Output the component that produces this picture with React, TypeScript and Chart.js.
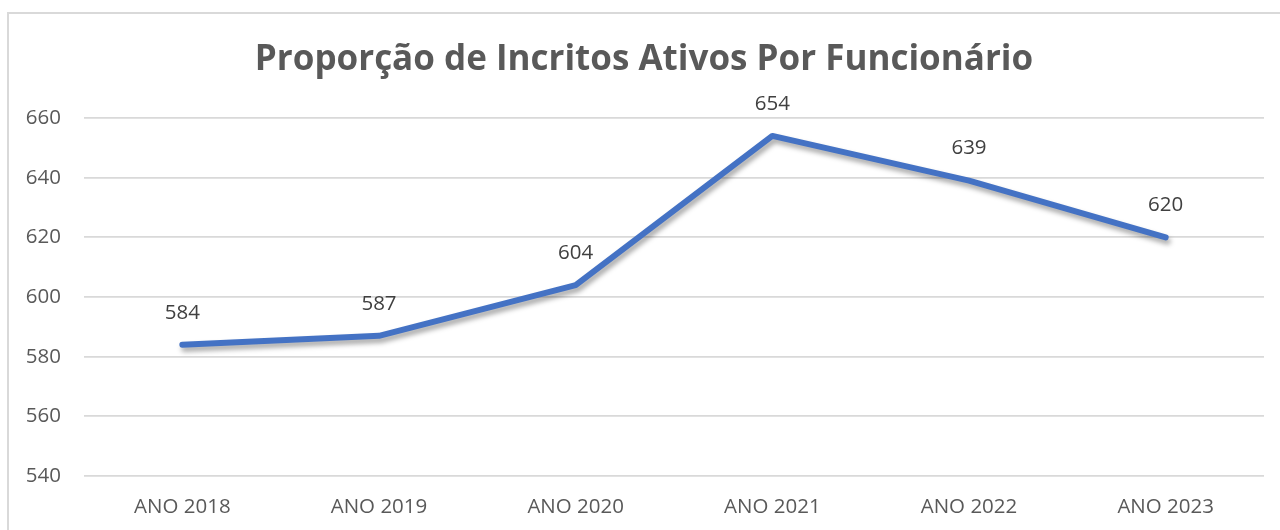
import React, { useEffect, useRef } from "react";
import { Chart, registerables } from "chart.js";

Chart.register(...registerables);

const categories: string[] = ["ANO 2018", "ANO 2019", "ANO 2020", "ANO 2021", "ANO 2022", "ANO 2023"];
const values: number[] = [584, 587, 604, 654, 639, 620];
const yMin = 540;
const yMax = 660;
const yStep = 20;
const titleText = "Proporção de Incritos Ativos Por Funcionário";

const FONT = "'Open Sans', 'Noto Sans', sans-serif";

const borderPlugin = {
  id: "outerBorder",
  beforeDraw(chart: any) {
    const ctx = chart.ctx;
    ctx.save();
    ctx.fillStyle = "#ffffff";
    ctx.fillRect(0, 0, chart.width, chart.height);
    ctx.strokeStyle = "#d9d9d9";
    ctx.lineWidth = 2;
    ctx.strokeRect(8, 13, chart.width + 20, chart.height + 20);
    ctx.restore();
  },
};

const shadowPlugin = {
  id: "lineShadow",
  beforeDatasetDraw(chart: any) {
    const ctx = chart.ctx;
    ctx.save();
    ctx.shadowColor = "rgba(0,0,0,0.35)";
    ctx.shadowBlur = 5;
    ctx.shadowOffsetX = 2;
    ctx.shadowOffsetY = 4;
  },
  afterDatasetDraw(chart: any) {
    chart.ctx.restore();
  },
};

const labelPlugin = {
  id: "valueLabels",
  afterDatasetsDraw(chart: any) {
    const ctx = chart.ctx;
    const meta = chart.getDatasetMeta(0);
    const data = chart.data.datasets[0].data as number[];
    ctx.save();
    ctx.font = `20.5px ${FONT}`;
    ctx.fillStyle = "#404040";
    ctx.textAlign = "center";
    ctx.textBaseline = "middle";
    meta.data.forEach((pt: any, i: number) => {
      ctx.fillText(String(data[i]), pt.x, pt.y - 32);
    });
    ctx.restore();
  },
};

export default function App() {
  const ref = useRef<HTMLCanvasElement | null>(null);
  useEffect(() => {
    if (!ref.current) return;
    const chart = new Chart(ref.current, {
      type: "line",
      data: {
        labels: categories,
        datasets: [
          {
            data: values,
            borderColor: "#4472C4",
            backgroundColor: "#4472C4",
            borderWidth: 6,
            borderCapStyle: "round",
            borderJoinStyle: "round",
            pointRadius: 0,
            tension: 0,
            fill: false,
          },
        ],
      },
      options: {
        animation: false,
        responsive: false,
        maintainAspectRatio: false,
        layout: { padding: { left: 24, right: 16, top: 0, bottom: 11 } },
        plugins: {
          legend: { display: false },
          tooltip: { enabled: false },
          title: {
            display: true,
            text: titleText,
            color: "#595959",
            font: { family: FONT, size: 35, weight: "bold" },
            padding: { top: 39, bottom: 37 },
          },
        },
        scales: {
          x: {
            offset: true,
            grid: { display: false, drawTicks: false },
            border: { display: false },
            ticks: {
              color: "#595959",
              font: { family: FONT, size: 20.5 },
              padding: 19,
              maxRotation: 0,
            },
            afterFit(scale: any) {
              scale.height = 43;
            },
          },
          y: {
            min: yMin,
            max: yMax,
            grid: { color: "#d9d9d9", lineWidth: 1.8, drawTicks: false },
            border: { display: false },
            ticks: {
              stepSize: yStep,
              color: "#595959",
              font: { family: FONT, size: 20.5 },
              padding: 23,
            },
            afterFit(scale: any) {
              scale.width = 60;
            },
          },
        },
      },
      plugins: [borderPlugin, shadowPlugin, labelPlugin],
    });
    return () => chart.destroy();
  }, []);
  return (
    <div style={{ position: "fixed", left: 0, top: 0, width: 1280, height: 530 }}>
      <canvas ref={ref} width={1280} height={530} style={{ display: "block" }} />
    </div>
  );
}
